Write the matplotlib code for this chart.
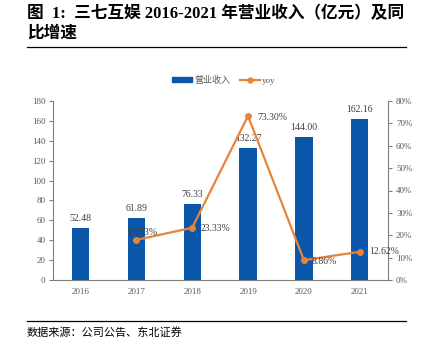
import matplotlib
matplotlib.use("Agg")
import matplotlib.pyplot as plt
from matplotlib.lines import Line2D

years = ["2016", "2017", "2018", "2019", "2020", "2021"]
revenue = [52.48, 61.89, 76.33, 132.27, 144.00, 162.16]
yoy = [17.93, 23.33, 73.30, 8.86, 12.62]
yoy_years = ["2017", "2018", "2019", "2020", "2021"]
left_ticks = [0, 20, 40, 60, 80, 100, 120, 140, 160, 180]
right_ticks = [0, 10, 20, 30, 40, 50, 60, 70, 80]

FAM = ["Liberation Serif", "Noto Sans CJK SC"]
BAR = "#0A56A8"
ORANGE = "#E8833A"
GRAY = "#595959"

fig = plt.figure(figsize=(4.24, 3.52), dpi=100)
W, H = 424, 352

ax = fig.add_axes([52.5 / W, 1 - 280 / H, (387.7 - 52.5) / W, (280 - 101) / H])
x = list(range(len(years)))
ax.bar(x, revenue, width=0.31, color=BAR, zorder=2)
ax.set_xlim(-0.5, len(years) - 0.5)
ax.set_ylim(0, 180)
ax.set_yticks(left_ticks)
ax.set_xticks(x)
ax.set_xticklabels(years)
for s in ["top", "right"]:
    ax.spines[s].set_visible(False)
ax.spines["left"].set_color("#7f7f7f")
ax.spines["bottom"].set_color("#7f7f7f")
ax.tick_params(axis="y", length=3, color="#7f7f7f", labelsize=6.5, labelcolor=GRAY, pad=2)
ax.tick_params(axis="x", length=0, labelsize=6.5, labelcolor=GRAY, pad=6)
for lab in ax.get_xticklabels() + ax.get_yticklabels():
    lab.set_family(FAM)
    lab.set_style("normal")
for xi, v in zip(x, revenue):
    ax.text(xi, v + 5, f"{v:.2f}", ha="center", va="bottom", fontsize=7, color="#404040",
            family=FAM, style="normal")

ax2 = ax.twinx()
xi2 = [years.index(y) for y in yoy_years]
ax2.plot(xi2, yoy, color=ORANGE, lw=1.6, marker="o", ms=4, zorder=3)
ax2.set_ylim(0, 80)
ax2.set_yticks(right_ticks)
ax2.set_yticklabels([f"{t}%" for t in right_ticks])
for s in ["top", "left", "bottom"]:
    ax2.spines[s].set_visible(False)
ax2.spines["right"].set_color("#7f7f7f")
ax2.tick_params(axis="y", length=3, color="#7f7f7f", labelsize=6.5, labelcolor=GRAY, pad=3)
for lab in ax2.get_yticklabels():
    lab.set_family(FAM)
    lab.set_style("normal")
offsets = [(-9, 7), (8, -1), (9, -2), (8, -1), (9, 0)]
for xx, v, off in zip(xi2, yoy, offsets):
    ax2.annotate(f"{v:.2f}%", (xx, v), xytext=off, textcoords="offset pixels",
                 ha="left", va="center", fontsize=7, color="#404040", family=FAM, style="normal")

# legend
handles = [
    plt.Rectangle((0, 0), 1, 1, color=BAR),
    Line2D([0], [0], color=ORANGE, lw=1.6, marker="o", ms=3.5),
]
leg = fig.legend(handles, ["营业收入", "yoy"], loc="center", bbox_to_anchor=(224 / W, 1 - 80 / H),
                 ncol=2, frameon=False, fontsize=6.5, handlelength=2.2, handleheight=0.6,
                 columnspacing=1.0, handletextpad=0.3,
                 prop={"family": FAM, "style": "normal", "size": 6.5})
for t in leg.get_texts():
    t.set_color(GRAY)

# title
fig.text(27 / W, 1 - 14 / H, "图  1:  三七互娱 2016-2021 年营业收入（亿元）及同", fontsize=12, fontweight="bold",
         family=FAM, ha="left", va="center")
fig.text(27 / W, 1 - 34 / H, "比增速", fontsize=12, fontweight="bold", family=FAM, ha="left", va="center")
fig.add_artist(Line2D([27 / W, 406 / W], [1 - 46.5 / H, 1 - 46.5 / H], color="black", lw=0.9))
fig.add_artist(Line2D([27 / W, 406 / W], [1 - 320.5 / H, 1 - 320.5 / H], color="black", lw=0.9))
fig.text(27 / W, 1 - 332 / H, "数据来源：公司公告、东北证券", fontsize=8, family=FAM, ha="left", va="center")

fig.savefig("out.png", dpi=100)
